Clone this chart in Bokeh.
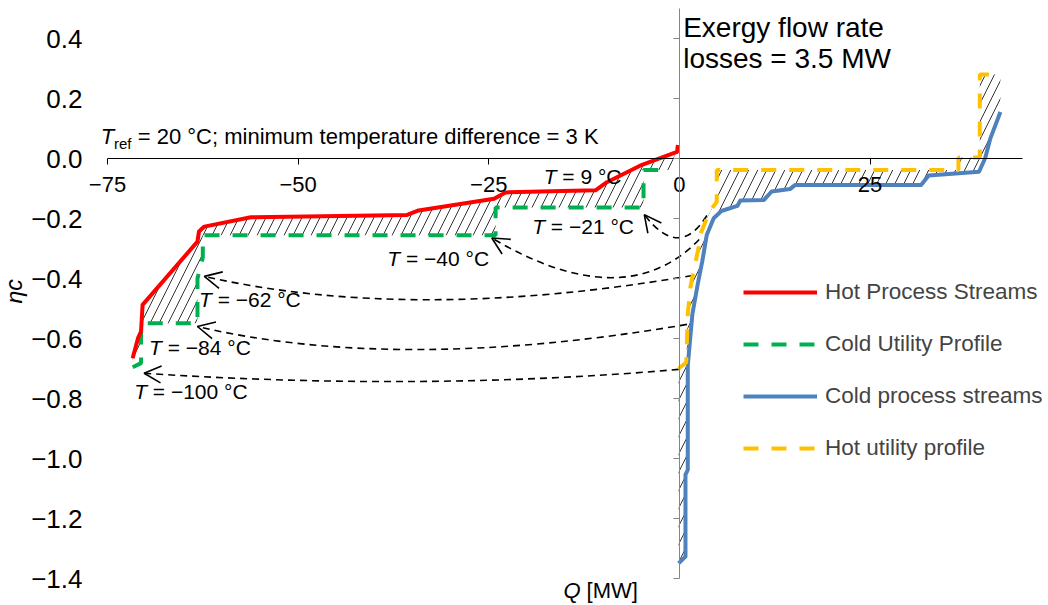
import math
from bokeh.plotting import figure
from bokeh.models import (Range1d, LinearAxis, FixedTicker, CustomJSTickFormatter,
                          Label, Legend, LegendItem, Arrow, OpenHead)
from bokeh.embed import file_html
from bokeh.resources import INLINE

# ---------------- data ----------------
# Hot process streams (red)
hot_x = [-71.7, -71.0, -70.6, -70.4, -63.2, -63.0, -62.3, -56.2, -35.7, -34.2,
         -24.3, -22.8, -11.0, -9.5, -4.9, -0.3, -0.2]
hot_y = [-0.666, -0.599, -0.577, -0.488, -0.277, -0.243, -0.227, -0.196, -0.188, -0.173,
         -0.134, -0.113, -0.106, -0.079, -0.021, 0.022, 0.045]

# Cold utility profile (green, dashed)
cu_x = [-71.7, -70.6, -70.6, -63.2, -63.2, -62.5, -62.5, -24.1, -24.1, -4.7, -4.7, -1.2]
cu_y = [-0.696, -0.682, -0.549, -0.549, -0.40, -0.33, -0.256, -0.256, -0.163, -0.163, -0.038, -0.038]

# Cold process streams (blue)
cold_x = [-0.1, 0.8, 0.8, 1.1, 1.1, 1.7, 2.4, 3.0, 3.6, 4.5, 5.5, 7.6, 8.0, 11.1, 12.1,
          14.5, 15.2, 31.7, 32.7, 39.3, 40.1, 40.8, 42.1]
cold_y = [-1.349, -1.327, -1.054, -1.038, -0.690, -0.520, -0.420, -0.343, -0.254, -0.199,
          -0.175, -0.158, -0.140, -0.138, -0.110, -0.102, -0.088, -0.088, -0.057, -0.044,
          0.001, 0.068, 0.155]

# Hot utility profile (yellow, dashed)
hu_x = [-0.1, 0.9, 1.0, 1.1, 1.44, 1.9, 2.5, 2.8, 3.6, 4.3, 4.9, 4.9, 36.6, 36.6, 39.4, 39.4, 42.1]
hu_y = [-0.700, -0.680, -0.600, -0.520, -0.430, -0.370, -0.300, -0.250, -0.200, -0.165,
        -0.145, -0.038, -0.038, 0.003, 0.003, 0.280, 0.280]

x_ticks = [-75, -50, -25, 0, 25]
y_ticks = [-1.4, -1.2, -1.0, -0.8, -0.6, -0.4, -0.2, 0.0, 0.2, 0.4]
x_lo, x_hi = -75, 45
y_lo, y_hi = -1.4, 0.5

# curved dashed arrows: start (x0,y0), tip (x1,y1), control (cx,cy)
arr_x0 = [3.6, 2.6, 1.7, 1.0, -0.1]
arr_y0 = [-0.19, -0.27, -0.39, -0.553, -0.703]
arr_x1 = [-4.6, -24.6, -62.3, -63.2, -70.2]
arr_y1 = [-0.187, -0.265, -0.393, -0.560, -0.716]
arr_cx = [0.0, -7.2, -35.0, -36.8, -33.5]
arr_cy = [-0.34, -0.527, -0.55, -0.717, -0.777]

# temperature annotations (left x, baseline y)
ann_x = [-17.8, -19.3, -38.3, -63.0, -69.55, -71.5]
ann_y = [-0.087, -0.253, -0.358, -0.497, -0.657, -0.804]
ann_t = ["9", "\u221221", "\u221240", "\u221262", "\u221284", "\u2212100"]

FONT = "Liberation Sans"
NB = "\u00a0"

# ---------------- layout (pixels) ----------------
W, H = 1048, 605
FL, FR, FT, FB = 107, 1022, 8, 578          # where the axes box sits on the canvas
sx = (FR - FL) / (x_hi - x_lo)
sy = (FB - FT) / (y_hi - y_lo)
xr = Range1d(x_lo - FL / sx, x_lo - FL / sx + W / sx)
yr = Range1d(y_hi + FT / sy - H / sy, y_hi + FT / sy)

p = figure(width=W, height=H, x_range=xr, y_range=yr,
           output_backend="svg", toolbar_location=None, title=None,
           min_border_left=0, min_border_right=0, min_border_top=0, min_border_bottom=0)
p.outline_line_color = None
p.xgrid.visible = False
p.ygrid.visible = False
p.background_fill_color = "white"
p.border_fill_color = "white"

# hatched regions
p.patch(hot_x + cu_x[::-1], hot_y + cu_y[::-1], fill_color=None, line_color=None,
        hatch_pattern="/", hatch_color="black", hatch_scale=18, hatch_weight=0.8)
p.patch(hu_x + cold_x[::-1], hu_y + cold_y[::-1], fill_color=None, line_color=None,
        hatch_pattern="/", hatch_color="black", hatch_scale=18, hatch_weight=0.8)

# arrows
p.quadratic(x0=arr_x0, y0=arr_y0, x1=arr_x1, y1=arr_y1, cx=arr_cx, cy=arr_cy,
            line_color="black", line_width=1.6, line_dash="7 5")
for i in range(len(arr_x1)):
    xs = arr_x1[i] + 0.1 * (arr_cx[i] - arr_x1[i])
    ys = arr_y1[i] + 0.1 * (arr_cy[i] - arr_y1[i])
    p.add_layout(Arrow(end=OpenHead(size=17, line_width=1.6, line_color="black"),
                       x_start=xs, y_start=ys, x_end=arr_x1[i], y_end=arr_y1[i],
                       line_alpha=0))

r_cu = p.line(cu_x, cu_y, line_color="#00B050", line_width=4, line_dash="15 13")
r_hot = p.line(hot_x, hot_y, line_color="#FF0000", line_width=4, line_join="round")
r_cold = p.line(cold_x, cold_y, line_color="#4F81BD", line_width=4, line_join="round")
r_hu = p.line(hu_x, hu_y, line_color="#FFC000", line_width=4, line_dash="15 13")

# x axis crossing at y=0
xa = p.xaxis[0]
xa.fixed_location = 0
xa.bounds = (x_lo, x_hi)
xa.ticker = FixedTicker(ticks=x_ticks)
xa.major_label_text_font = FONT
xa.major_label_text_font_size = "22px"
xa.major_label_text_color = "black"
xa.major_tick_out = 6
xa.major_tick_in = 0
xa.minor_tick_line_color = None
xa.axis_line_color = "black"
xa.major_tick_line_color = "black"
xa.major_label_standoff = 12

# labels-only y axis at the left edge of the axes box
ya = p.yaxis[0]
ya.fixed_location = x_lo
ya.ticker = FixedTicker(ticks=y_ticks)
ya.formatter = CustomJSTickFormatter(code="""
const v = Math.abs(tick) < 1e-9 ? 0 : tick;
const s = Math.abs(v).toFixed(1);
return v < 0 ? "\u2212" + s : s;
""")
ya.axis_line_color = None
ya.major_tick_line_color = None
ya.minor_tick_line_color = None
ya.major_tick_out = 0
ya.major_tick_in = 0
ya.major_label_text_font = FONT
ya.major_label_text_font_size = "26px"
ya.major_label_text_color = "black"
ya.major_label_standoff = 25

# y axis line crossing at x=0
y0 = LinearAxis(fixed_location=0, bounds=(y_lo, y_hi), ticker=FixedTicker(ticks=y_ticks),
                formatter=CustomJSTickFormatter(code="return '';"),
                axis_line_color="#868686", major_tick_line_color="#868686",
                major_tick_out=6, major_tick_in=0, minor_tick_line_color=None)
p.add_layout(y0, "left")


def lab(x, y, text, size, style="normal", xo=0, yo=0, align="left", baseline="alphabetic",
        angle=0, rotated=False):
    shift = 0.37 * size   # compensate the renderer's downward text offset
    if rotated:
        xo -= shift
    else:
        yo += shift
    p.add_layout(Label(x=x, y=y, text=text, text_font=FONT, text_font_size=f"{size}px",
                       text_font_style=style, x_offset=xo, y_offset=yo, text_align=align,
                       text_baseline=baseline, angle=angle, text_color="black"))


for xx, yy, tt in zip(ann_x, ann_y, ann_t):
    lab(xx, yy, "T", 21, "italic")
    lab(xx, yy, NB + "= " + tt + " \u00b0C", 21, xo=12.8)

# reference text
lab(-75.9, 0.047, "T", 22, "italic")
lab(-75.9, 0.047, "ref", 15, xo=13.4, yo=-5)
lab(-75.9, 0.047, NB + "= 20 \u00b0C; minimum temperature difference = 3 K", 22, xo=31)

lab(0.5, 0.403, "Exergy flow rate", 28)
lab(0.5, 0.300, "losses = 3.5 MW", 28)

lab(-15.2, -1.4667, "Q", 22, "italic")
lab(-15.2, -1.4667, NB + "[MW]", 22, xo=17)

lab(-86.2, -0.443, "\u03b7c", 23, "italic", align="center", baseline="middle",
    angle=math.pi / 2, rotated=True)

row_top = 278.7
leg_h = 4 * 26 + 3 * 26
legend = Legend(items=[LegendItem(label="Hot Process Streams", renderers=[r_hot]),
                       LegendItem(label="Cold Utility Profile", renderers=[r_cu]),
                       LegendItem(label="Cold process streams", renderers=[r_cold]),
                       LegendItem(label="Hot utility profile", renderers=[r_hu])],
                location=(743, H - (row_top + leg_h)), orientation="vertical",
                border_line_color=None, background_fill_alpha=0, label_text_font=FONT,
                label_text_font_size="22.5px", glyph_width=74, glyph_height=26,
                label_height=26, spacing=26, padding=0, margin=0, label_standoff=8)
p.add_layout(legend)

open("out.html", "w").write(file_html(p, INLINE))
